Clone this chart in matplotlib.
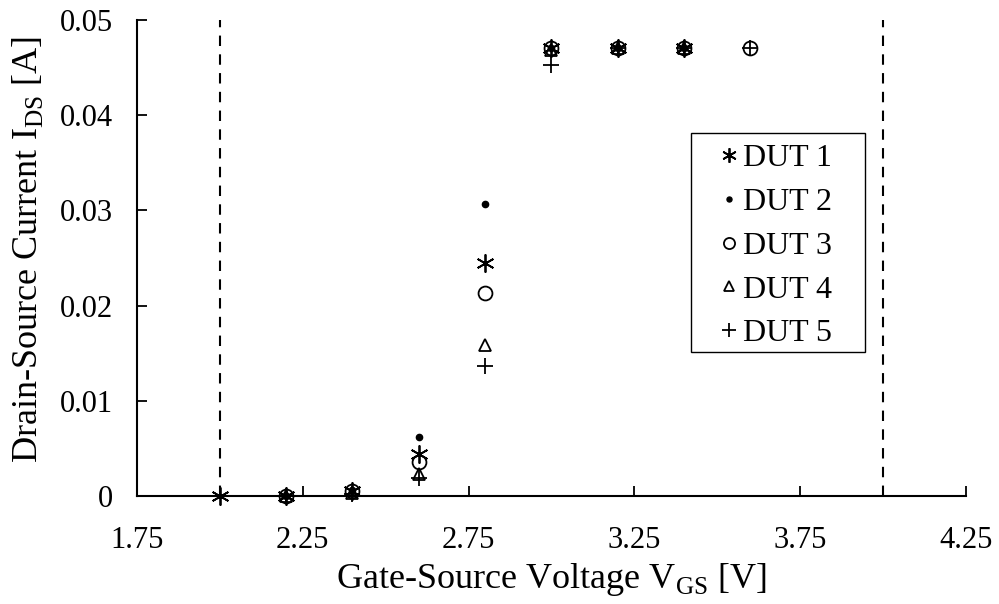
import matplotlib
matplotlib.use("Agg")
import matplotlib.pyplot as plt
from matplotlib.patches import Rectangle

plt.rcParams['font.family'] = ['Liberation Serif', 'DejaVu Serif']
plt.rcParams['mathtext.fontset'] = 'custom'
plt.rcParams['mathtext.rm'] = 'Liberation Serif'

# Data
dut1_x = [2.0, 2.2, 2.4, 2.6, 2.8, 3.0, 3.2, 3.4]
dut1_y = [0.0, 0.0, 0.0005, 0.0044, 0.0245, 0.0470, 0.0470, 0.0470]
dut2_x = [2.2, 2.4, 2.6, 2.8, 3.0, 3.2, 3.4]
dut2_y = [0.0, 0.0006, 0.0062, 0.0307, 0.0470, 0.0470, 0.0470]
dut3_x = [2.2, 2.4, 2.6, 2.8, 3.0, 3.2, 3.4, 3.6]
dut3_y = [0.0, 0.0005, 0.0036, 0.0213, 0.0470, 0.0470, 0.0470, 0.0471]
dut4_x = [2.2, 2.4, 2.6, 2.8, 3.0, 3.2, 3.4]
dut4_y = [0.0, 0.0003, 0.0023, 0.0159, 0.0468, 0.0470, 0.0470]
dut5_x = [2.2, 2.4, 2.6, 2.8, 3.0, 3.2, 3.4, 3.6]
dut5_y = [0.0, 0.0002, 0.0019, 0.0136, 0.0453, 0.0470, 0.0470, 0.0471]
limit_lines = [2.0, 4.0]
x_ticks = [1.75, 2.25, 2.75, 3.25, 3.75, 4.25]
y_ticks = [0, 0.01, 0.02, 0.03, 0.04, 0.05]
y_tick_labels = ['0', '0.01', '0.02', '0.03', '0.04', '0.05']

W, H = 999, 604
fig = plt.figure(figsize=(9.99, 6.04), dpi=100)
ax = fig.add_axes([0.137, 0.179, 0.83, 0.788])

k = dict(linestyle='none', color='black', clip_on=False, zorder=5)
ax.plot(dut1_x, dut1_y, marker=(6, 2, 0), markersize=13, markeredgewidth=1.3, label='DUT 1', **k)
ax.plot(dut2_x, dut2_y, marker='o', markersize=4.5, label='DUT 2', **k)
ax.plot(dut3_x, dut3_y, marker='o', markersize=10, markerfacecolor='none', markeredgewidth=1.3, label='DUT 3', **k)
ax.plot(dut4_x, dut4_y, marker='^', markersize=9, markerfacecolor='none', markeredgewidth=1.3, label='DUT 4', **k)
ax.plot(dut5_x, dut5_y, marker='+', markersize=12, markeredgewidth=1.3, label='DUT 5', **k)

for xv in limit_lines:
    ax.axvline(xv, color='black', linestyle=(0, (5, 4)), linewidth=1.5, zorder=1)

ax.set_xlim(1.75, 4.25)
ax.set_ylim(0, 0.05)
ax.set_xticks(x_ticks)
ax.set_xticklabels([f'{v:.2f}' for v in x_ticks])
ax.set_yticks(y_ticks)
ax.set_yticklabels(y_tick_labels)
ax.tick_params(axis='both', labelsize=22, length=7, width=1.3, color='black', direction='in')
ax.tick_params(axis='x', pad=22)
ax.tick_params(axis='y', pad=17)
ax.spines['top'].set_visible(False)
ax.spines['right'].set_visible(False)
ax.spines['left'].set_linewidth(1.5)
ax.spines['bottom'].set_linewidth(1.5)

ax.set_xlabel('Gate-Source Voltage V$_{\\mathrm{GS}}$ [V]', fontsize=26, labelpad=4)
ax.set_ylabel('Drain-Source Current I$_{\\mathrm{DS}}$ [A]', fontsize=26)
ax.yaxis.set_label_coords(-0.111, 0.517)

fs = 23
handlelength = 0.8
leg = ax.legend(loc='upper left', fontsize=fs, frameon=False, markerscale=0.8,
                handlelength=handlelength, handletextpad=0.05, borderpad=0,
                borderaxespad=0, labelspacing=0.45)
hl_px = handlelength * fs * 100 / 72
leg.set_bbox_to_anchor(((729 - hl_px / 2) / W, 1 - 144 / H), transform=fig.transFigure)
fig.patches.append(Rectangle((691 / W, 1 - 352 / H), (865 - 691) / W, (352 - 133) / H,
                             transform=fig.transFigure, fill=False, edgecolor='black',
                             linewidth=1.0, zorder=6))

fig.savefig('out.png', dpi=100)
